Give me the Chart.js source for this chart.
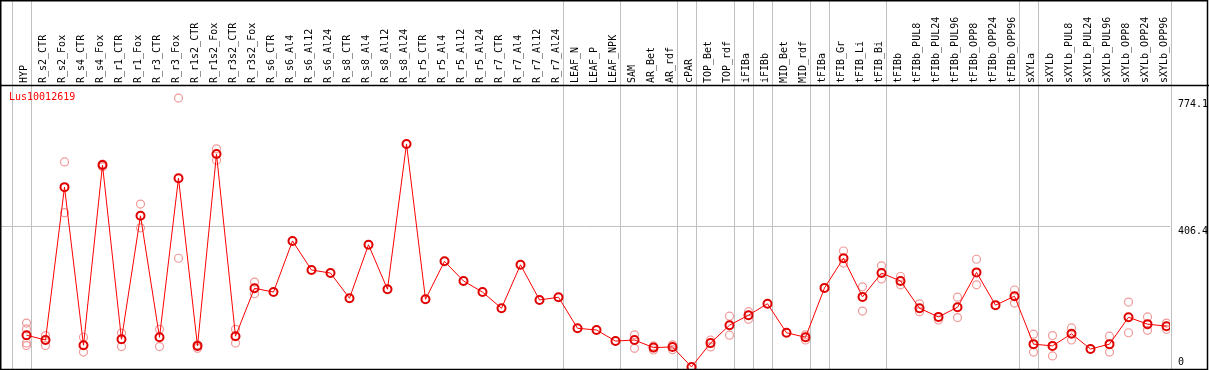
<!DOCTYPE html>
<html lang="en">
<head>
    <meta charset="UTF-8">
    <title>Lus10012619</title>
    <script src="https://cdn.jsdelivr.net/npm/chart.js"></script>
    <style>
        body {
            margin: 0;
            padding: 0;
            background-color: white;
        }
        canvas {
            display: block;
        }
    </style>
</head>
<body>
    <canvas id="exprChart" width="1209" height="370"></canvas>

    <script>
        // sample names, left to right
        const categories = ['HYP', 'R_s2_CTR', 'R_s2_Fox', 'R_s4_CTR', 'R_s4_Fox', 'R_r1_CTR', 'R_r1_Fox',
            'R_r3_CTR', 'R_r3_Fox', 'R_r1s2_CTR', 'R_r1s2_Fox', 'R_r3s2_CTR', 'R_r3s2_Fox',
            'R_s6_CTR', 'R_s6_Al4', 'R_s6_Al12', 'R_s6_Al24', 'R_s8_CTR', 'R_s8_Al4', 'R_s8_Al12', 'R_s8_Al24',
            'R_r5_CTR', 'R_r5_Al4', 'R_r5_Al12', 'R_r5_Al24', 'R_r7_CTR', 'R_r7_Al4', 'R_r7_Al12', 'R_r7_Al24',
            'LEAF_N', 'LEAF_P', 'LEAF_NPK', 'SAM', 'AR_Bet', 'AR_rdf', 'cPAR', 'TOP_Bet', 'TOP_rdf',
            'iFIBa', 'iFIBb', 'MID_Bet', 'MID_rdf', 'tFIBa', 'tFIB_Gr', 'tFIB_Li', 'tFIB_Bi',
            'tFIBb', 'tFIBb_PUL8', 'tFIBb_PUL24', 'tFIBb_PUL96', 'tFIBb_OPP8', 'tFIBb_OPP24', 'tFIBb_OPP96',
            'sXYLa', 'sXYLb', 'sXYLb_PUL8', 'sXYLb_PUL24', 'sXYLb_PUL96', 'sXYLb_OPP8', 'sXYLb_OPP24', 'sXYLb_OPP96'];

        // mean expression per sample
        const meanValues = [92, 78, 521, 63, 585, 80, 438, 86, 547, 61, 617, 89, 228,
            217, 365, 281, 272, 199, 354, 225, 646,
            196, 306, 249, 217, 170, 296, 194, 202,
            112, 107, 75, 78, 56, 58, 0, 69, 121,
            150, 183, 99, 86, 229, 315, 203, 272,
            249, 170, 145, 173, 274, 179, 205,
            66, 61, 96, 52, 66, 144, 124, 118];

        // single replicates per sample (empty where none shown)
        const replicateValues = [
            [127, 110, 69, 62], [91, 62], [594, 447], [86, 43], [588, 580], [98, 59], [472, 403],
            [109, 59], [779, 315], [64, 54], [632, 599], [109, 69], [246, 212],
            [], [], [], [], [], [], [], [],
            [], [], [], [], [], [], [], [],
            [], [], [], [93, 54], [61, 49], [64, 50], [], [78, 58], [147, 92],
            [160, 138], [], [], [93, 78], [], [336, 301], [232, 162], [293, 255],
            [262, 238], [183, 160], [136], [202, 143], [312, 238], [], [223, 185],
            [95, 43], [91, 32], [113, 78], [], [89, 43], [188, 99], [145, 106], [127, 109]];

        const yTicks = [0, 406.4, 774.1];
        // group separators come right after these sample indices
        const separatorsAfter = [-1, 0, 28, 31, 34, 35, 37, 38, 39, 41, 42, 45, 52, 53, 60];
        const geneName = 'Lus10012619';

        const replicatePoints = [];
        replicateValues.forEach((reps, i) => {
            reps.forEach(v => replicatePoints.push({ x: i, y: v }));
        });

        const monoFont = { family: 'DejaVu Sans Mono', size: 10 };

        // grey separators, outer frame and the gene name
        const framePlugin = {
            id: 'frame',
            beforeDatasetsDraw(chart) {
                const ctx = chart.ctx;
                const xs = chart.scales.x;
                ctx.save();
                ctx.strokeStyle = '#c0c0c0';
                ctx.lineWidth = 1;
                separatorsAfter.forEach(i => {
                    const px = Math.round(xs.getPixelForValue(i + 0.24)) + 0.5;
                    ctx.beginPath();
                    ctx.moveTo(px, 0);
                    ctx.lineTo(px, chart.chartArea.bottom);
                    ctx.stroke();
                });
                ctx.restore();
            },
            afterDraw(chart) {
                const ctx = chart.ctx;
                const area = chart.chartArea;
                ctx.save();
                ctx.strokeStyle = '#000';
                ctx.lineWidth = 1.5;
                ctx.strokeRect(0.75, 0.75, chart.width - 2.25, area.bottom - 0.25);
                ctx.beginPath();
                ctx.moveTo(0, area.top + 0.5);
                ctx.lineTo(chart.width, area.top + 0.5);
                ctx.stroke();
                ctx.fillStyle = '#ff0000';
                ctx.font = '10px "DejaVu Sans Mono"';
                ctx.textBaseline = 'top';
                ctx.fillText(geneName, area.left + 8, area.top + 7);
                ctx.restore();
            }
        };

        const ctx = document.getElementById('exprChart').getContext('2d');
        new Chart(ctx, {
            type: 'line',
            data: {
                datasets: [{
                    label: 'mean',
                    data: meanValues.map((v, i) => ({ x: i, y: v })),
                    borderColor: '#ff0000',
                    borderWidth: 1,
                    tension: 0,
                    pointStyle: 'circle',
                    pointRadius: 4,
                    pointBorderWidth: 2,
                    pointBorderColor: '#e00000',
                    pointBackgroundColor: 'rgba(255,255,255,0)',
                    order: 1
                },
                {
                    label: 'replicates',
                    data: replicatePoints,
                    showLine: false,
                    pointStyle: 'circle',
                    pointRadius: 4,
                    pointBorderWidth: 1.2,
                    pointBorderColor: '#f09a9a',
                    pointBackgroundColor: 'rgba(255,255,255,0)',
                    order: 2
                }]
            },
            options: {
                responsive: false,
                animation: false,
                devicePixelRatio: 1,
                layout: {
                    autoPadding: false,
                    padding: { left: 1, right: 1, top: 0, bottom: 1 }
                },
                plugins: {
                    legend: { display: false },
                    tooltip: { enabled: false }
                },
                scales: {
                    x: {
                        type: 'linear',
                        position: 'top',
                        min: -1.342,
                        max: 60.184,
                        afterBuildTicks: scale => {
                            scale.ticks = categories.map((c, i) => ({ value: i }));
                        },
                        afterFit: scale => {
                            scale.height = 85;
                            scale.paddingLeft = 0;
                            scale.paddingRight = 0;
                        },
                        grid: { display: false, drawTicks: false },
                        border: { display: false },
                        ticks: {
                            autoSkip: false,
                            minRotation: 90,
                            maxRotation: 90,
                            padding: 2,
                            labelOffset: 10,
                            color: '#000',
                            font: monoFont,
                            callback: value => categories[Math.round(value)]
                        }
                    },
                    y: {
                        position: 'right',
                        min: -6,
                        max: 817,
                        afterBuildTicks: scale => {
                            scale.ticks = yTicks.map(v => ({ value: v }));
                        },
                        afterFit: scale => {
                            scale.width = 38;
                            scale.paddingTop = 0;
                            scale.paddingBottom = 0;
                        },
                        grid: {
                            drawTicks: false,
                            color: c => (c.tick && c.tick.value === 406.4) ? '#c0c0c0' : 'rgba(0,0,0,0)'
                        },
                        border: { display: false },
                        ticks: {
                            padding: 8,
                            labelOffset: 5,
                            color: '#000',
                            font: { family: 'DejaVu Sans Mono', size: 10, lineHeight: 1 },
                            callback: value => value === 0 ? ['0', '', ''] : String(value)
                        }
                    }
                }
            },
            plugins: [framePlugin]
        });
    </script>
</body>
</html>
